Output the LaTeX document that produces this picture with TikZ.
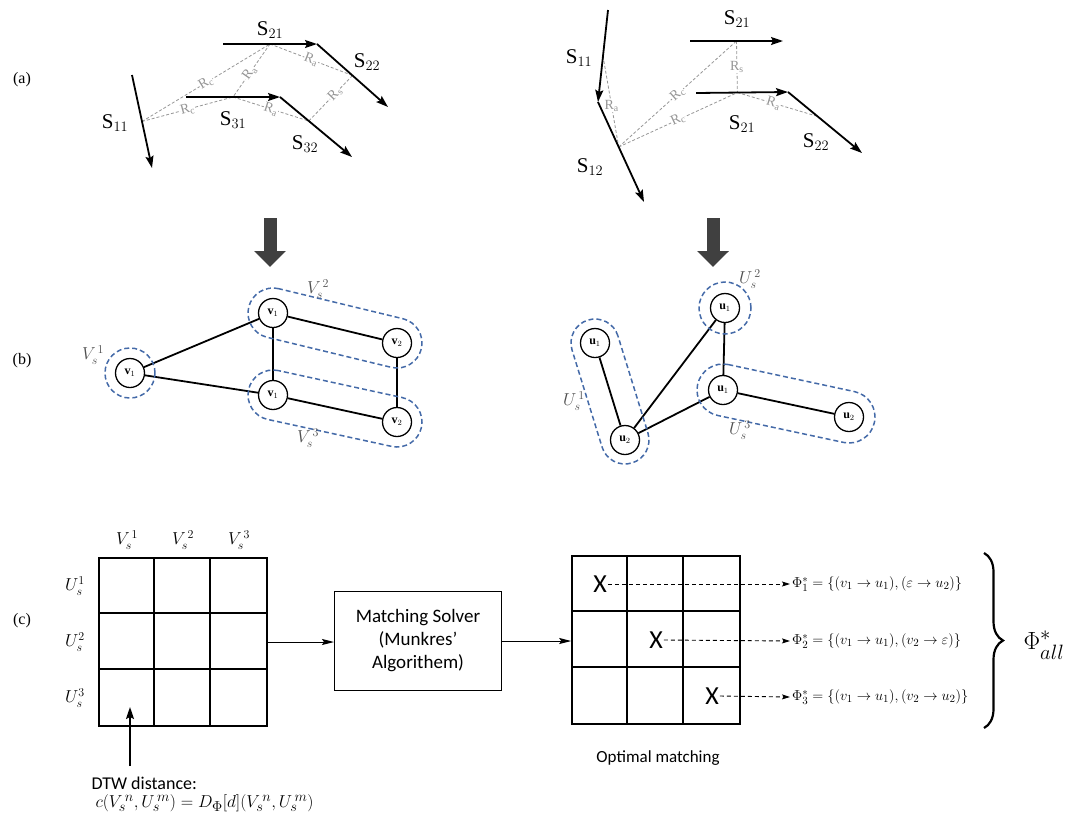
\documentclass[tikz,border=0pt]{standalone}
\usepackage{amsmath, amssymb}
\usepackage{fontspec}
\setmainfont{Liberation Serif}
\newfontfamily\calibri{Carlito}
\usepackage{tikz}
\usetikzlibrary{arrows.meta,calc,decorations.pathreplacing}
\definecolor{setblue}{RGB}{68,106,168}
\definecolor{linkgrey}{RGB}{150,150,150}
\definecolor{labgrey}{RGB}{80,80,80}
\definecolor{blockgrey}{RGB}{64,64,64}
% dashed stadium round two nodes
\newcommand{\setblob}[3]{%
  \draw[blobline] let \p1=($(#2)-(#1)$), \n1={atan2(\y1,\x1)} in
    ($(#1)+(\n1+90:#3)$) arc[start angle=\n1+90,end angle=\n1+270,radius=#3]
    -- ($(#2)+(\n1-90:#3)$) arc[start angle=\n1-90,end angle=\n1+90,radius=#3]
    -- cycle;}

\begin{document}
\begin{tikzpicture}[x=1pt,y=-1pt,
    segarrow/.style={line width=1.8pt,-{Stealth[length=12pt,width=8pt,inset=2pt]}},
    link/.style={linkgrey,dash pattern=on 3pt off 2pt,line width=0.8pt},
    rlabel/.style={linkgrey,font=\fontsize{14}{14}\selectfont,fill=white,inner sep=0.3pt},
    slabel/.style={font=\fontsize{21}{24}\selectfont,inner sep=1pt},
    panel/.style={font=\fontsize{16}{16}\selectfont},
    blockarrow/.style={blockgrey,line width=13pt,-{Triangle[length=16pt,width=31pt]}},
    vertex/.style={circle,draw,line width=1.3pt,minimum size=29pt,inner sep=0pt,
      fill=white,font=\fontsize{12}{12}\selectfont},
    edge/.style={line width=1.8pt},
    blobline/.style={setblue,dash pattern=on 5pt off 3pt,line width=1.5pt},
    setlabel/.style={labgrey,font=\fontsize{17}{17}\selectfont},
    gridbox/.style={draw,line width=1.6pt,minimum size=168pt,inner sep=0pt},
    gridline/.style={line width=1.6pt},
    mathlabel/.style={font=\fontsize{18}{18}\selectfont},
    sanstext/.style={font=\calibri\fontsize{18}{21}\selectfont},
    solverbox/.style={draw,line width=1pt,minimum width=167pt,minimum height=99pt,
      align=center,font=\calibri\fontsize{19}{23}\selectfont},
    flowarrow/.style={line width=1pt,-{Stealth[length=12pt,width=6pt,inset=2pt]}},
    xmark/.style={font=\calibri\fontsize{26}{26}\selectfont,inner sep=1pt},
    dasharrow/.style={dash pattern=on 4pt off 3pt,line width=0.9pt,
      -{Stealth[length=8pt,width=5pt,inset=1.5pt]}},
    phitext/.style={anchor=west,font=\fontsize{15}{15}\selectfont,inner sep=2pt},
    bracestyle/.style={decorate,decoration={brace,amplitude=19pt},line width=2.2pt}]
  \useasboundingbox (0,0) rectangle (1073,817);

  % panel labels
  \node[panel] (pa) at (22,80) {(a)};
  \node[panel] (pb) at (22,361) {(b)};
  \node[panel] (pc) at (22,621) {(c)};

  % (a) left: segments
  \coordinate (s11a) at (132,75);  \coordinate (s11b) at (152,168);
  \coordinate (s21a) at (223,44);  \coordinate (s21b) at (317,44);
  \coordinate (s22b) at (388,107);
  \coordinate (s31a) at (186,97);  \coordinate (s31b) at (280,97);
  \coordinate (s32b) at (352,157);
  \coordinate (m11) at ($(s11a)!0.5!(s11b)$);
  \coordinate (m21) at ($(s21a)!0.5!(s21b)$);
  \coordinate (m22) at ($(s21b)!0.5!(s22b)$);
  \coordinate (m31) at ($(s31a)!0.5!(s31b)$);
  \coordinate (m32) at ($(s31b)!0.4!(s32b)$);
  \draw[link] (m11) -- (m21) node[rlabel,midway,sloped]{R$_{\mathrm c}$};
  \draw[link] (m11) -- (m31) node[rlabel,midway,sloped]{R$_{\mathrm c}$};
  \draw[link] (m21) -- (m31) node[rlabel,pos=0.55,sloped]{R$_{\mathrm a}$};
  \draw[link] (m21) -- (m22) node[rlabel,midway,sloped]{R$_{\mathrm a}$};
  \draw[link] (m22) -- (m32) node[rlabel,pos=0.4,sloped]{R$_{\mathrm s}$};
  \draw[link] (m31) -- (m32) node[rlabel,midway,sloped]{R$_{\mathrm a}$};
  \draw[segarrow] (s11a) -- (s11b);
  \draw[segarrow] (s21a) -- (s21b);
  \draw[segarrow] (s21b) -- (s22b);
  \draw[segarrow] (s31a) -- (s31b);
  \draw[segarrow] (s31b) -- (s32b);
  \node[slabel] (ls11) at (115,123) {S$_{11}$};
  \node[slabel] (ls21) at (270,30) {S$_{21}$};
  \node[slabel] (ls22) at (367,62) {S$_{22}$};
  \node[slabel] (ls31) at (233,120) {S$_{31}$};
  \node[slabel] (ls32) at (305,144) {S$_{32}$};

  % (a) right: segments
  \coordinate (t11a) at (608,10);  \coordinate (t11b) at (598,102);
  \coordinate (t12b) at (644,202);
  \coordinate (t21a) at (690,41);  \coordinate (t21b) at (783,41);
  \coordinate (t31a) at (696,93);  \coordinate (t31b) at (788,92);
  \coordinate (t32b) at (862,153);
  \coordinate (n11) at ($(t11a)!0.5!(t11b)$);
  \coordinate (n12) at ($(t11b)!0.45!(t12b)$);
  \coordinate (n21) at ($(t21a)!0.5!(t21b)$);
  \coordinate (n31) at ($(t31a)!0.45!(t31b)$);
  \coordinate (n32) at ($(t31b)!0.4!(t32b)$);
  \draw[link] (n11) -- (n12) node[rlabel,pos=0.55]{R$_{\mathrm a}$};
  \draw[link] (n12) -- (n21) node[rlabel,midway,sloped]{R$_{\mathrm c}$};
  \draw[link] (n12) -- (n31) node[rlabel,midway,sloped]{R$_{\mathrm c}$};
  \draw[link] (n21) -- (n31) node[rlabel,midway]{R$_{\mathrm s}$};
  \draw[link] (n31) -- (n32) node[rlabel,pos=0.45,sloped]{R$_{\mathrm a}$};
  \draw[segarrow] (t11a) -- (t11b);
  \draw[segarrow] (t11b) -- (t12b);
  \draw[segarrow] (t21a) -- (t21b);
  \draw[segarrow] (t31a) -- (t31b);
  \draw[segarrow] (t31b) -- (t32b);
  \node[slabel] (lt11) at (579,58) {S$_{11}$};
  \node[slabel] (lt12) at (590,167) {S$_{12}$};
  \node[slabel] (lt21) at (737,19) {S$_{21}$};
  \node[slabel] (lt31) at (742,124) {S$_{21}$};
  \node[slabel] (lt32) at (816,142) {S$_{22}$};

  % block arrows
  \coordinate (bl1) at (270,218); \coordinate (bl2) at (270,267);
  \coordinate (br1) at (713,218); \coordinate (br2) at (713,267);
  \draw[blockarrow] (bl1) -- (bl2);
  \draw[blockarrow] (br1) -- (br2);

  % (b) left graph
  \node[vertex] (va) at (130,373) {\textbf{v}$_1$};
  \node[vertex] (vb) at (273,313) {\textbf{v}$_1$};
  \node[vertex] (vc) at (397,343) {\textbf{v}$_2$};
  \node[vertex] (vd) at (273,395) {\textbf{v}$_1$};
  \node[vertex] (ve) at (397,422) {\textbf{v}$_2$};
  \draw[edge] (va) -- (vb) (va) -- (vd) (vb) -- (vd)
    (vb) -- (vc) (vd) -- (ve) (vc) -- (ve);
  \draw[blobline] (va) circle[radius=25pt];
  \setblob{vb}{vc}{25pt}
  \setblob{vd}{ve}{25pt}
  \node[setlabel] (lv1) at (93,355) {$V_s^{\,1}$};
  \node[setlabel] (lv2) at (318,289) {$V_s^{\,2}$};
  \node[setlabel] (lv3) at (308,438) {$V_s^{\,3}$};

  % (b) right graph
  \node[vertex] (ua) at (595,343) {\textbf{u}$_1$};
  \node[vertex] (ub) at (625,440) {\textbf{u}$_2$};
  \node[vertex] (uc) at (725,308) {\textbf{u}$_1$};
  \node[vertex] (ud) at (723,390) {\textbf{u}$_1$};
  \node[vertex] (ue) at (849,417) {\textbf{u}$_2$};
  \draw[edge] (ua) -- (ub) (ub) -- (uc) (ub) -- (ud)
    (uc) -- (ud) (ud) -- (ue);
  \draw[blobline] (uc) circle[radius=26pt];
  \setblob{ua}{ub}{24pt}
  \setblob{ud}{ue}{26pt}
  \node[setlabel] (lu1) at (574,401) {$U_s^{\,1}$};
  \node[setlabel] (lu2) at (750,279) {$U_s^{\,2}$};
  \node[setlabel] (lu3) at (740,430) {$U_s^{\,3}$};

  % (c) cost matrix
  \node[gridbox] (cost) at (183,642) {};
  \node[gridbox] (match) at (656,640) {};
  \foreach \k in {1,2} {
    \draw[gridline] ($(cost.north west)+(56*\k,0)$) -- ($(cost.south west)+(56*\k,0)$);
    \draw[gridline] ($(cost.north west)+(0,56*\k)$) -- ($(cost.north east)+(0,56*\k)$);
    \draw[gridline] ($(match.north west)+(56*\k,0)$) -- ($(match.south west)+(56*\k,0)$);
    \draw[gridline] ($(match.north west)+(0,56*\k)$) -- ($(match.north east)+(0,56*\k)$);
  }
  \foreach \k in {1,2,3} {
    \node[mathlabel] (col\k) at (71+56*\k,540) {$V_s^{\,\k}$};
    \node[mathlabel] (row\k) at (75,530+56*\k) {$U_s^{\k}$};
  }
  % DTW note
  \node[sanstext,anchor=west] (dtw) at (88,783) {DTW distance:};
  \node[anchor=west,font=\fontsize{19}{19}\selectfont] (dtwform) at (92,803)
    {$c(V_s^{\,n},U_s^{\,m}) = D_{\Phi}[d](V_s^{\,n},U_s^{\,m})$};
  \coordinate (dtwtop) at (130,766);
  \coordinate (cell31) at (130,707);
  \draw[line width=1.8pt,-{Stealth[length=12pt,width=8pt,inset=2pt]}] (dtwtop) -- (cell31);

  % solver
  \node[solverbox] (solver) at (418,641) {Matching Solver\\(Munkres’\\Algorithem)};
  \draw[flowarrow] (cost.east) -- (cost.east -| solver.west);
  \draw[flowarrow] (solver.east) -- (solver.east -| match.west);

  % optimal matching
  \foreach \k in {1,2,3}
    \node[xmark] (x\k) at (544+56*\k,528+56*\k) {X};
  \node[phitext] (phi1) at (790,584)
    {$\Phi_1^{*} = \{(v_1 \rightarrow u_1), (\varepsilon \rightarrow u_2)\}$};
  \node[phitext] (phi2) at (790,641)
    {$\Phi_2^{*} = \{(v_1 \rightarrow u_1), (v_2 \rightarrow \varepsilon)\}$};
  \node[phitext] (phi3) at (790,697)
    {$\Phi_3^{*} = \{(v_1 \rightarrow u_1), (v_2 \rightarrow u_2)\}$};
  \foreach \k in {1,2,3}
    \draw[dasharrow] (x\k.east) -- (phi\k.west);
  \node[sanstext,font=\calibri\fontsize{17}{17}\selectfont] (optlabel) at (658,758)
    {Optimal matching};
  \draw[bracestyle] (984,553) -- (984,728);
  \node[font=\fontsize{30}{30}\selectfont] (phiall) at (1044,645) {$\Phi^{*}_{all}$};
\end{tikzpicture}
\end{document}
